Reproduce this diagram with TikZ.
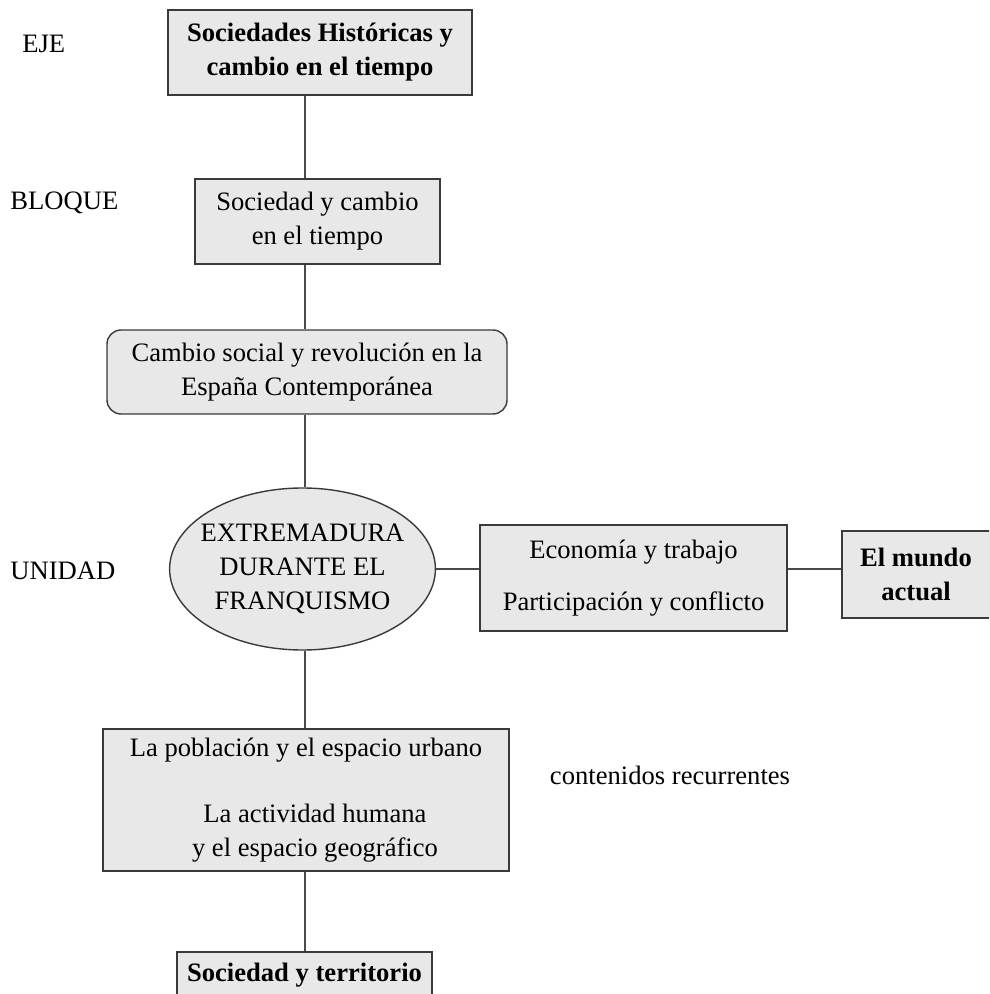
\documentclass[tikz,border=0pt]{standalone}
\usepackage{fontspec}
\setmainfont{Liberation Serif}
\usepackage{xcolor}
\usetikzlibrary{shapes.geometric}
\definecolor{BoxGray}{HTML}{E8E8E8}
\definecolor{EdgeGray}{HTML}{3A3A3A}
\definecolor{LinkGray}{HTML}{4A4A4A}

\begin{document}
\begin{tikzpicture}[
      x=0.5pt,y=-0.5pt,
      font=\fontsize{13.3}{17}\selectfont,
      box/.style={draw=EdgeGray,fill=BoxGray,line width=0.7pt,align=center,inner sep=0pt},
      oval/.style={box,ellipse,inner xsep=-4pt,inner ysep=0pt},
      tag/.style={anchor=west,inner sep=0pt},
      link/.style={draw=LinkGray,line width=0.6pt}
    ]
      \useasboundingbox (0,0) rectangle (989,994);
      \clip (0,0) rectangle (989,994);
      \coordinate (spine) at (305,0);
      % level labels
      \node[tag] (ejetag) at (22,44) {EJE};
      \node[tag] (bloquetag) at (10,203) {BLOQUE};
      \node[tag] (unidadtag) at (10,571) {UNIDAD};
      \node (recurrentes) at (670,775) {contenidos recurrentes};
      % boxes
      \node[box,minimum width=152pt,minimum height=42.5pt,font=\fontsize{13.3}{17}\selectfont\bfseries] (eje) at (320,52.5) {Sociedades Históricas y\\cambio en el tiempo};
      \node[box,minimum width=122.5pt,minimum height=42.5pt] (bloque) at (317.5,221.5) {Sociedad y cambio\\en el tiempo};
      \node[box,rounded corners=7pt,minimum width=200pt,minimum height=42pt] (area) at (307,372) {Cambio social y revolución en la\\España Contemporánea};
      \node[oval,minimum width=132.5pt,minimum height=81pt] (unidad) at (302.5,569) {EXTREMADURA\\DURANTE EL\\FRANQUISMO};
      \node[box,minimum width=153.5pt,minimum height=53pt] (temas) at (633.5,578) {Economía y trabajo\\[9pt]Participación y conflicto};
      \node[box,minimum width=74pt,minimum height=43.5pt,font=\fontsize{13.3}{17}\selectfont\bfseries] (mundo) at (916,574.5) {El mundo\\actual};
      \node[box,minimum width=203pt,minimum height=71pt] (contenidos) at (306,800) {La población y el espacio urbano\\[16pt]\hspace*{9pt}La actividad humana\\\hspace*{9pt}y el espacio geográfico};
      \node[box,minimum width=127.5pt,minimum height=23pt,font=\fontsize{13.3}{17}\selectfont\bfseries] (territorio) at (304.5,975) {Sociedad y territorio};
      % connectors
      \draw[link] (eje.south -| spine) -- (bloque.north -| spine);
      \draw[link] (bloque.south -| spine) -- (area.north -| spine);
      \draw[link] (area.south -| spine) -- (unidad.north -| spine);
      \draw[link] (unidad.south -| spine) -- (contenidos.north -| spine);
      \draw[link] (contenidos.south -| spine) -- (territorio.north -| spine);
      \draw[link] (unidad.east) -- (unidad.east -| temas.west);
      \draw[link] (temas.east |- unidad.east) -- (unidad.east -| mundo.west);
    \end{tikzpicture}
\end{document}
